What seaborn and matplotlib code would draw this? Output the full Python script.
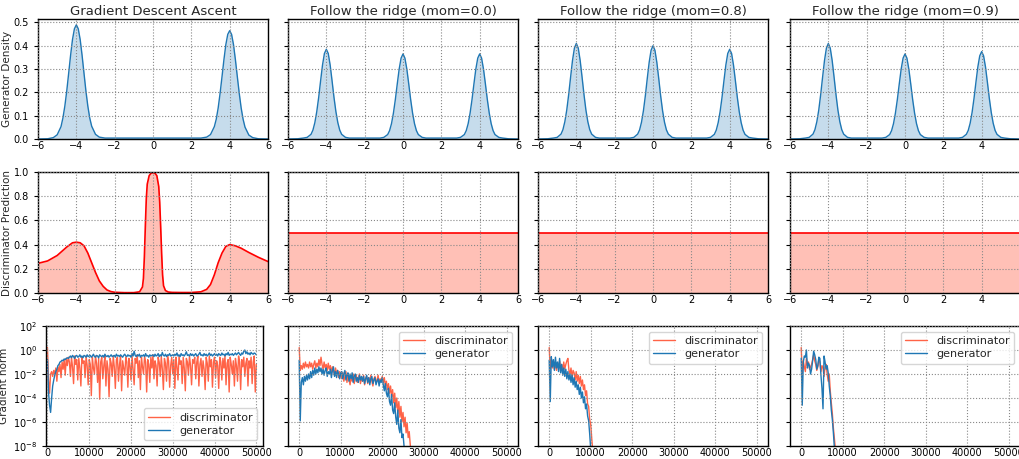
import numpy as np
import matplotlib
matplotlib.use("Agg")
import matplotlib.pyplot as plt
import seaborn as sns

# ---------------- data ----------------
titles = ["Gradient Descent Ascent", "Follow the ridge (mom=0.0)",
          "Follow the ridge (mom=0.8)", "Follow the ridge (mom=0.9)"]
row_labels = ["Generator Density", "Discriminator Prediction", "Gradient norm"]

# generator density, GDA
x_gda = [-6.0, -5.5, -5.2, -5.0, -4.8, -4.7, -4.6, -4.5, -4.4, -4.3, -4.2, -4.1, -4.0,
         -3.9, -3.8, -3.7, -3.6, -3.5, -3.4, -3.3, -3.2, -3.0, -2.8, -2.5, -2.0, -1.0,
         0.0, 1.0, 2.0, 2.5, 2.8, 3.0, 3.2, 3.3, 3.4, 3.5, 3.6, 3.7, 3.8, 3.9, 4.0,
         4.1, 4.2, 4.3, 4.4, 4.5, 4.6, 4.7, 4.8, 5.0, 5.2, 5.5, 6.0]
dens_gda = [0.0, 0.001, 0.006, 0.018, 0.053, 0.090, 0.141, 0.206, 0.282, 0.359, 0.427, 0.473, 0.49,
            0.473, 0.427, 0.359, 0.282, 0.206, 0.141, 0.090, 0.055, 0.020, 0.008, 0.004, 0.004, 0.004,
            0.004, 0.004, 0.004, 0.004, 0.008, 0.019, 0.053, 0.085, 0.133, 0.196, 0.267, 0.340, 0.405, 0.449, 0.465,
            0.449, 0.405, 0.340, 0.267, 0.196, 0.133, 0.085, 0.051, 0.017, 0.006, 0.001, 0.0]

# generator density, follow the ridge (three modes)
x_ridge = [-6.0, -5.5,
           -5.2, -5.0, -4.8, -4.7, -4.6, -4.5, -4.4, -4.3, -4.2, -4.1, -4.0,
           -3.9, -3.8, -3.7, -3.6, -3.5, -3.4, -3.3, -3.2, -3.0, -2.8,
           -2.0,
           -1.2, -1.0, -0.8, -0.7, -0.6, -0.5, -0.4, -0.3, -0.2, -0.1, 0.0,
           0.1, 0.2, 0.3, 0.4, 0.5, 0.6, 0.7, 0.8, 1.0, 1.2,
           2.0,
           2.8, 3.0, 3.2, 3.3, 3.4, 3.5, 3.6, 3.7, 3.8, 3.9, 4.0,
           4.1, 4.2, 4.3, 4.4, 4.5, 4.6, 4.7, 4.8, 5.0, 5.2,
           5.5, 6.0]
dens_mom00 = [0.0, 0.001,
              0.004, 0.007, 0.020, 0.038, 0.070, 0.117, 0.178, 0.249, 0.317, 0.367, 0.385,
              0.367, 0.317, 0.249, 0.178, 0.117, 0.070, 0.038, 0.020, 0.007, 0.004,
              0.004,
              0.004, 0.007, 0.019, 0.036, 0.066, 0.111, 0.169, 0.236, 0.300, 0.347, 0.365,
              0.347, 0.300, 0.236, 0.169, 0.111, 0.066, 0.036, 0.019, 0.007, 0.004,
              0.004,
              0.004, 0.007, 0.019, 0.036, 0.066, 0.111, 0.169, 0.236, 0.300, 0.347, 0.365,
              0.347, 0.300, 0.236, 0.169, 0.111, 0.066, 0.036, 0.019, 0.007, 0.004,
              0.001, 0.0]
dens_mom08 = [0.0, 0.001,
              0.004, 0.007, 0.021, 0.040, 0.074, 0.124, 0.190, 0.265, 0.337, 0.390, 0.41,
              0.390, 0.337, 0.265, 0.190, 0.124, 0.074, 0.040, 0.021, 0.007, 0.004,
              0.004,
              0.004, 0.007, 0.021, 0.039, 0.072, 0.121, 0.185, 0.259, 0.329, 0.381, 0.40,
              0.381, 0.329, 0.259, 0.185, 0.121, 0.072, 0.039, 0.021, 0.007, 0.004,
              0.004,
              0.004, 0.007, 0.020, 0.038, 0.070, 0.117, 0.178, 0.249, 0.317, 0.367, 0.385,
              0.367, 0.317, 0.249, 0.178, 0.117, 0.070, 0.038, 0.020, 0.007, 0.004,
              0.001, 0.0]
dens_mom09 = [0.0, 0.001,
              0.004, 0.007, 0.021, 0.040, 0.074, 0.124, 0.190, 0.265, 0.337, 0.390, 0.41,
              0.390, 0.337, 0.265, 0.190, 0.124, 0.074, 0.040, 0.021, 0.007, 0.004,
              0.004,
              0.004, 0.007, 0.019, 0.036, 0.066, 0.111, 0.169, 0.236, 0.300, 0.347, 0.365,
              0.347, 0.300, 0.236, 0.169, 0.111, 0.066, 0.036, 0.019, 0.007, 0.004,
              0.004,
              0.004, 0.007, 0.020, 0.037, 0.068, 0.114, 0.174, 0.243, 0.309, 0.357, 0.375,
              0.357, 0.309, 0.243, 0.174, 0.114, 0.068, 0.037, 0.020, 0.007, 0.004,
              0.001, 0.0]

# discriminator prediction
x_disc_gda = [-6.0, -5.5, -5.0, -4.5, -4.2, -4.0, -3.8, -3.6, -3.4, -3.2,
              -3.0, -2.8, -2.6, -2.4, -2.2, -2.0, -1.5, -1.0, -0.7, -0.55,
              -0.5, -0.45, -0.4, -0.35, -0.3, -0.2, -0.1, 0.0, 0.1, 0.2,
              0.3, 0.35, 0.4, 0.45, 0.5, 0.55, 0.65, 0.8, 1.0, 1.5,
              2.0, 2.5, 2.8, 3.0, 3.2, 3.4, 3.6, 3.8, 4.0, 4.3,
              4.6, 5.0, 5.5, 6.0]
pred_gda = [0.245, 0.265, 0.31, 0.38, 0.415, 0.42, 0.415, 0.39, 0.33, 0.25,
            0.17, 0.10, 0.055, 0.025, 0.012, 0.006, 0.003, 0.003, 0.01, 0.05,
            0.12, 0.30, 0.55, 0.78, 0.90, 0.97, 0.99, 0.995, 0.99, 0.97,
            0.88, 0.75, 0.55, 0.33, 0.15, 0.06, 0.02, 0.008, 0.005, 0.004,
            0.004, 0.01, 0.03, 0.07, 0.15, 0.25, 0.33, 0.385, 0.40, 0.39,
            0.37, 0.335, 0.295, 0.26]
x_disc_ridge = [-6.0, 6.0]
pred_ridge = [0.5, 0.5]

# gradient norms (log10 values), sampled every 250 iterations
iter_step = 250
gen_gda_log = [-0.8, -3.5, -4.6, -5.2, -4.0, -3.0, -2.5, -2.1, -1.8, -1.6, -1.3, -1.2, -1.0, -0.95, -0.85, -0.9, -0.75, -0.8, -0.7, -0.65, -0.7,
               -0.6, -0.5, -0.65, -0.45, -0.55, -0.7, -0.5, -0.45, -0.6, -0.55, -0.4, -0.6, -0.5, -0.65, -0.45, -0.5, -0.6, -0.4, -0.55, -0.5,
               -0.45, -0.6, -0.5, -0.35, -0.55, -0.6, -0.45, -0.5, -0.65, -0.4, -0.5, -0.55, -0.45, -0.6, -0.35, -0.5, -0.55, -0.45, -0.6, -0.5,
               -0.4, -0.55, -0.5, -0.45, -0.6, -0.35, -0.5, -0.45, -0.55, -0.4, -0.5, -0.6, -0.45, -0.35, -0.5, -0.55, -0.4, -0.5, -0.45, -0.6,
               -0.3, -0.5, -0.1, -0.45, -0.55, -0.4, -0.5, -0.35, -0.6, -0.45, -0.5, -0.4, -0.55, -0.3, -0.5, -0.45, -0.6, -0.4, -0.5, -0.45,
               -0.4, -0.55, -0.35, -0.5, -0.45, -0.3, -0.55, -0.4, -0.5, -0.2, -0.45, -0.5, -0.35, -0.55, -0.4, -0.45, -0.3, -0.5, -0.45, -0.4,
               -0.5, -0.35, -0.45, -0.25, -0.5, -0.4, -0.55, -0.3, -0.45, -0.4, -0.5, -0.35, -0.15, -0.45, -0.4, -0.5, -0.3, -0.45, -0.35, -0.5,
               -0.4, -0.3, -0.5, -0.45, -0.35, -0.2, -0.45, -0.4, -0.5, -0.3, -0.45, -0.35, -0.5, -0.4, -0.25, -0.45, -0.35, -0.5, -0.4, -0.3,
               -0.45, -0.35, -0.5, -0.3, -0.4, -0.45, -0.25, -0.4, -0.35, -0.5, -0.3, -0.4, -0.2, -0.45, -0.35, -0.4, -0.3, -0.45, -0.35, -0.25,
               -0.4, -0.3, -0.2, -0.35, -0.45, -0.25, -0.35, -0.1, 0.0, -0.3, -0.15, -0.35, -0.25, -0.4, -0.2, -0.3, -0.35, -0.25, -0.3, -0.4]
disc_gda_log = [0.2, -2.5, -3.6, -2.0, -1.8, -2.2, -1.7, -2.0, -1.5, -2.6, -1.4, -1.8, -1.2, -2.3, -1.0, -1.6, -0.8, -2.1, -0.7, -1.3, -0.6,
                -1.0, -2.2, -0.6, -1.4, -2.8, -0.5, -1.2, -0.8, -2.5, -0.7, -1.5, -3.0, -0.6, -1.1, -0.9, -2.3, -0.5, -1.3, -2.9, -0.8,
                -1.2, -3.8, -0.6, -1.5, -2.0, -0.5, -1.1, -2.7, -0.7, -4.1, -1.0, -0.6, -2.4, -1.3, -0.5, -3.0, -0.9, -1.6, -3.9, -0.7,
                -1.1, -2.2, -0.5, -1.4, -3.2, -0.8, -0.6, -2.6, -1.2, -0.5, -3.4, -0.9, -1.5, -2.1, -0.6, -1.0, -3.1, -0.7, -1.3, -2.5,
                -0.5, -1.6, -2.9, -0.7, -1.1, -0.4, -2.3, -0.9, -3.3, -0.6, -1.4, -2.0, -0.5, -1.0, -3.5, -0.8, -1.2, -2.7, -0.6, -1.5,
                -0.4, -2.4, -0.9, -1.3, -3.0, -0.6, -1.0, -2.2, -0.5, -1.6, -3.3, -0.7, -1.1, -2.6, -0.5, -0.9, -3.1, -1.3, -0.6, -2.0,
                -0.8, -3.2, -0.6, -1.4, -2.5, -0.5, -1.2, -0.9, -2.8, -0.6, -1.5, -3.4, -0.7, -1.0, -2.1, -0.5, -1.3, -2.9, -0.8, -1.1,
                -0.6, -2.4, -1.0, -0.5, -3.0, -1.2, -0.7, -2.2, -0.9, -1.6, -3.3, -0.6, -1.1, -2.6, -0.5, -1.4, -0.8, -3.1, -1.0, -0.6,
                -2.3, -0.9, -1.3, -3.2, -0.6, -1.0, -2.5, -0.7, -1.5, -0.5, -2.9, -1.1, -0.8, -3.5, -0.6, -1.2, -2.0, -0.9, -3.0, -0.7,
                -1.3, -2.6, -0.5, -1.0, -3.3, -0.8, -1.4, -0.6, -2.2, -1.1, -0.7, -3.0, -0.9, -1.5, -0.6, -2.8, -1.0, -0.5, -3.5, -1.2]

gen_m00_log = [-0.85, -5.9, -2.7, -2.3, -2.9, -2.2, -2.6, -2.1, -2.5,
               -2.0, -2.4, -1.8, -2.3, -1.7, -2.1, -1.5, -2.0, -1.6, -1.9, -1.4, -1.8,
               -1.5, -2.0, -1.6, -2.1, -1.7, -1.5, -2.2, -1.8, -2.0, -1.6, -2.3, -1.7, -1.4, -2.2, -1.8, -2.3, -1.7, -2.0, -2.4, -1.9,
               -1.8, -2.4, -2.0, -1.7, -2.5, -2.1, -1.9, -2.6, -2.0, -2.4, -1.9, -2.7, -2.2, -2.0, -2.6, -2.3, -2.7, -2.1, -2.5, -2.2,
               -2.6, -2.2, -2.8, -2.4, -2.1, -2.7, -2.3, -2.9, -2.4, -2.2, -2.8, -2.5, -2.3, -2.9, -2.6, -2.4, -3.0, -2.5, -2.7, -2.3,
               -2.9, -3.4, -2.8, -3.6, -3.9, -3.2, -4.3, -4.6, -3.7, -5.0, -5.3, -4.4, -5.6, -6.2, -5.0, -6.5, -6.9, -5.8, -7.3, -7.0, -8.0, -8.8]
disc_m00_log = [0.2, -1.7, -1.3, -1.6, -1.1, -1.5, -1.0, -1.4, -1.2,
                -1.5, -1.0, -1.4, -1.1, -1.6, -1.2, -0.9, -1.5, -1.1, -1.4, -0.8, -1.3,
                -0.6, -1.2, -1.6, -1.0, -1.5, -1.2, -1.7, -1.1, -1.6, -1.3, -1.9, -1.4, -1.7, -2.1, -1.5, -2.0, -1.7, -2.3, -1.8, -2.1,
                -2.4, -1.9, -2.6, -2.2, -1.8, -2.7, -2.1, -2.5, -2.9, -2.2, -2.6, -2.0, -2.8, -2.3, -2.1, -2.7, -2.4, -2.0, -2.8, -2.3,
                -2.6, -2.1, -2.9, -2.4, -2.2, -2.8, -2.3, -2.7, -2.1, -2.6, -3.0, -2.4, -2.2, -2.7, -2.5, -2.1, -2.8, -2.4, -2.6, -2.2,
                -2.7, -2.3, -3.0, -2.6, -3.3, -2.8, -3.6, -3.0, -3.9, -3.3, -4.4, -3.6, -4.8, -4.0, -5.3, -4.3, -5.6, -4.7, -6.0, -5.2,
                -6.4, -5.6, -6.9, -6.1, -7.3, -6.8, -7.9, -8.6]

gen_m08_log = [-0.85, -4.3, -0.55, -1.4, -0.8, -1.7, -0.6, -1.5, -1.0, -1.8, -0.7, -1.9, -1.2, -2.1, -1.5, -2.2, -1.6, -2.4, -1.8, -2.5,
               -2.0, -2.7, -2.1, -2.9, -2.3, -3.1, -2.6, -3.3, -2.9, -3.7, -3.1, -4.0, -3.5, -4.4, -3.9, -4.9, -4.5, -5.5, -5.9, -7.0, -8.3]
disc_m08_log = [0.2, -1.6, -0.8, -1.5, -0.9, -1.6, -1.0, -1.7, -1.1, -1.5, -0.9, -1.7, -1.2, -1.8, -1.0, -1.6, -1.2, -0.9, -0.7, -1.7,
                -2.0, -1.5, -2.3, -1.7, -1.9, -2.5, -1.8, -2.6, -2.1, -2.8, -2.2, -3.0, -2.5, -3.3, -2.9, -3.8, -3.4, -4.5, -4.7, -5.8,
                -6.2, -7.4, -8.4]

gen_m09_log = [-0.7, -4.6, -1.0, -0.5, -0.6, 0.0, -1.5, -1.1, -1.3, -2.0, -1.6, -0.9, -0.1, -0.4, -0.8, -1.6, -1.3, -0.6, -0.7, -2.1,
               -3.2, -4.9, -0.5, -1.0, -1.6, -1.3, -1.9, -3.0, -3.8, -5.0, -5.8, -6.9, -8.2]
disc_m09_log = [0.2, -2.0, -0.9, -1.4, -1.8, -0.7, -1.3, -1.0, -1.6, -1.4, -1.2, -0.8, -0.4, -0.9, -1.2, -1.7, -1.4, -0.8, -1.0, -1.8,
                -1.3, -1.5, -2.2, -1.4, -1.2, -2.0, -2.6, -2.0, -3.4, -4.4, -5.3, -6.5, -7.4, -8.3]

density_x = [x_gda, x_ridge, x_ridge, x_ridge]
density_y = [dens_gda, dens_mom00, dens_mom08, dens_mom09]
pred_x = [x_disc_gda, x_disc_ridge, x_disc_ridge, x_disc_ridge]
pred_y = [pred_gda, pred_ridge, pred_ridge, pred_ridge]
disc_logs = [disc_gda_log, disc_m00_log, disc_m08_log, disc_m09_log]
gen_logs = [gen_gda_log, gen_m00_log, gen_m08_log, gen_m09_log]
legend_locs = ["lower right", "upper right", "upper right", "upper right"]
x_ticks_pos = [-6, -4, -2, 0, 2, 4, 6]
iter_xlims = [(-350, 51600), (-2700, 52700), (-2700, 52700), (-2700, 52700)]

# ---------------- style ----------------
sns.set_style("white")
plt.rcParams['font.family'] = ['DejaVu Sans']
plt.rcParams.update({
    "axes.edgecolor": "black",
    "axes.linewidth": 1.0,
    "xtick.bottom": True, "ytick.left": True,
    "xtick.major.size": 0, "ytick.major.size": 3,
    "xtick.major.width": 0.8, "ytick.major.width": 0.8,
    "xtick.color": "black", "ytick.color": "black",
    "xtick.labelsize": 7, "ytick.labelsize": 7,
    "xtick.major.pad": 1.5, "ytick.major.pad": 3.5,
})

W, H = 1019, 459
fig = plt.figure(figsize=(W / 100, H / 100), dpi=100)

col_left = [38, 288, 538, 790]
axw = 230
rows_px = [(19, 139), (172, 293), (326, 446)]

C_BLUE = "#1f77b4"
C_TOMATO = "#ff6347"
FILL_RED = "#ffc0b6"

axes = [[None] * 4 for _ in range(3)]
for r, (top, bot) in enumerate(rows_px):
    for c in range(4):
        left, width = col_left[c], axw
        if r == 2 and c == 0:
            left, width = 46, 217
        rect = [left / W, 1 - bot / H, width / W, (bot - top) / H]
        axes[r][c] = fig.add_axes(rect)

for c in range(4):
    xlabels = [("\u2212%d" % -v if v < 0 else "%d" % v) for v in x_ticks_pos]
    if c == 3:
        xlabels[-1] = ""

    # row 1: generator density
    ax = axes[0][c]
    sns.lineplot(x=density_x[c], y=density_y[c], ax=ax, color=C_BLUE, linewidth=1.0, sort=False)
    ax.fill_between(density_x[c], density_y[c], color=C_BLUE, alpha=0.25, linewidth=0)
    ax.set_xlim(-6, 6)
    ax.set_ylim(0, 0.515)
    ax.set_yticks([0.0, 0.1, 0.2, 0.3, 0.4, 0.5])
    ax.set_xticks(x_ticks_pos)
    ax.set_xticklabels(xlabels)
    ax.set_title(titles[c], fontsize=9.5, pad=3)

    # row 2: discriminator prediction
    ax = axes[1][c]
    sns.lineplot(x=pred_x[c], y=pred_y[c], ax=ax, color="red", linewidth=1.2, sort=False)
    ax.fill_between(pred_x[c], pred_y[c], color=FILL_RED, linewidth=0)
    ax.set_xlim(-6, 6)
    ax.set_ylim(0, 1.0)
    ax.set_yticks([0.0, 0.2, 0.4, 0.6, 0.8, 1.0])
    ax.set_xticks(x_ticks_pos)
    ax.set_xticklabels(xlabels)

    # row 3: gradient norm
    ax = axes[2][c]
    d = np.power(10.0, np.array(disc_logs[c]))
    g = np.power(10.0, np.array(gen_logs[c]))
    it_d = np.arange(len(d)) * iter_step
    it_g = np.arange(len(g)) * iter_step
    sns.lineplot(x=it_d, y=d, ax=ax, color=C_TOMATO, linewidth=1.0, label="discriminator")
    sns.lineplot(x=it_g, y=g, ax=ax, color=C_BLUE, linewidth=1.0, label="generator")
    ax.set_yscale("log")
    ax.set_ylim(1e-8, 1e2)
    ax.set_yticks([1e-8, 1e-6, 1e-4, 1e-2, 1e0, 1e2])
    ax.yaxis.set_minor_locator(matplotlib.ticker.NullLocator())
    ax.set_xlim(*iter_xlims[c])
    ax.set_xticks([0, 10000, 20000, 30000, 40000, 50000])
    ax.legend(loc=legend_locs[c], fontsize=8, framealpha=0.8,
              edgecolor="#cccccc", handlelength=2.0, borderpad=0.4, labelspacing=0.3)

for r in range(3):
    for c in range(4):
        ax = axes[r][c]
        ax.grid(True, linestyle=":", color="#888888", linewidth=0.8)
        ax.set_axisbelow(False)
        ax.set_xlabel("")
        if c == 0:
            ax.set_ylabel(row_labels[r], fontsize=7.5)
        else:
            ax.set_ylabel("")
            ax.tick_params(axis="y", labelleft=False)
        for s in ax.spines.values():
            s.set_color("black")
            s.set_linewidth(1.0)

axes[0][0].yaxis.set_label_coords(-0.111, 0.5)
axes[1][0].yaxis.set_label_coords(-0.111, 0.5)
axes[2][0].yaxis.set_label_coords(-0.172, 0.5)

fig.savefig("out.png", dpi=100)
